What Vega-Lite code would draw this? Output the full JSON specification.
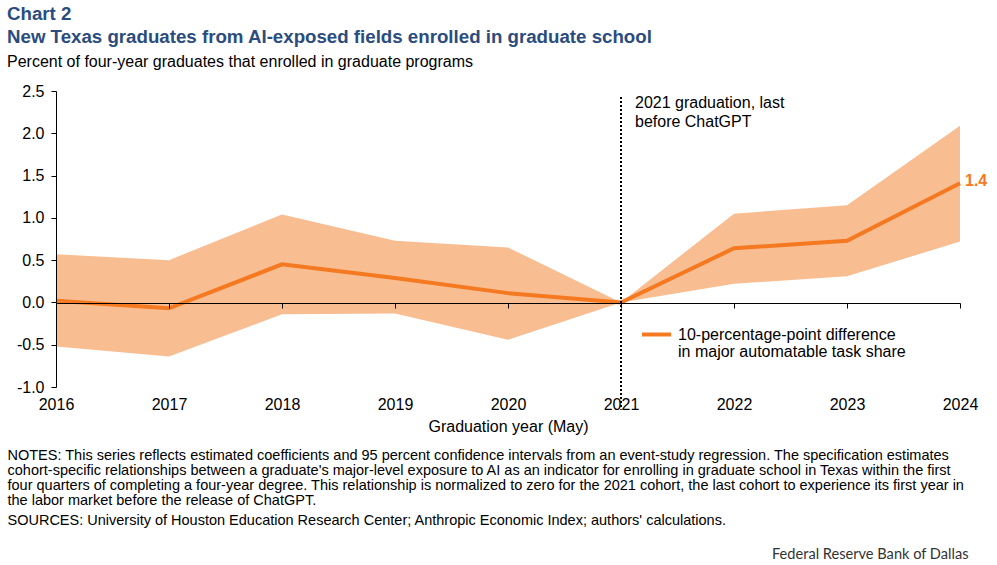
{
  "$schema": "https://vega.github.io/schema/vega-lite/v6.json",
  "description": "New Texas graduates from AI-exposed fields enrolled in graduate school, event-study estimates with 95% CI",
  "width": 904,
  "height": 296,
  "autosize": "none",
  "padding": {"left": 56, "top": 91, "right": 37, "bottom": 178},
  "background": "white",
  "config": {
    "view": {"stroke": null},
    "font": "Liberation Sans, Arial, sans-serif"
  },
  "title": {
    "text": ["Chart 2", "New Texas graduates from AI-exposed fields enrolled in graduate school"],
    "subtitle": "Percent of four-year graduates that enrolled in graduate programs",
    "anchor": "start",
    "frame": "group",
    "dx": -49,
    "offset": 13,
    "fontSize": 18.7,
    "fontWeight": "bold",
    "color": "#2B4C7E",
    "lineHeight": 23,
    "subtitleFontSize": 16,
    "subtitleFontWeight": "normal",
    "subtitleColor": "black",
    "subtitlePadding": 7
  },
  "data": {
    "values": [
      {"year": 2016, "est": 0.02, "lo": -0.52, "hi": 0.57},
      {"year": 2017, "est": -0.07, "lo": -0.64, "hi": 0.5},
      {"year": 2018, "est": 0.45, "lo": -0.14, "hi": 1.04},
      {"year": 2019, "est": 0.29, "lo": -0.13, "hi": 0.73},
      {"year": 2020, "est": 0.11, "lo": -0.44, "hi": 0.65},
      {"year": 2021, "est": 0, "lo": 0, "hi": 0},
      {"year": 2022, "est": 0.64, "lo": 0.22, "hi": 1.05},
      {"year": 2023, "est": 0.73, "lo": 0.31, "hi": 1.15},
      {"year": 2024, "est": 1.41, "lo": 0.72, "hi": 2.09}
    ]
  },
  "resolve": {"axis": {"x": "independent", "y": "independent"}},
  "layer": [
    {
      "mark": {"type": "area", "fill": "#F8BD91", "opacity": 1},
      "encoding": {
        "x": {
          "field": "year",
          "type": "quantitative",
          "scale": {"domain": [2016, 2024], "nice": false, "zero": false},
          "axis": {
            "orient": "bottom",
            "values": [2016, 2017, 2018, 2019, 2020, 2021, 2022, 2023, 2024],
            "format": "d",
            "grid": false,
            "domain": false,
            "ticks": false,
            "tickSize": 0,
            "labelFontSize": 16,
            "labelColor": "black",
            "labelPadding": 9,
            "labelFlush": false,
            "title": "Graduation year (May)",
            "titleFontSize": 16,
            "titleFontWeight": "normal",
            "titleColor": "black",
            "titlePadding": 6
          }
        },
        "y": {
          "field": "lo",
          "type": "quantitative",
          "scale": {"domain": [-1, 2.5], "nice": false, "zero": false},
          "axis": {
            "orient": "left",
            "values": [-1, -0.5, 0, 0.5, 1, 1.5, 2, 2.5],
            "labelExpr": "replace(format(datum.value, '.1f'), '\u2212', '-')",
            "grid": false,
            "domain": true,
            "domainColor": "black",
            "ticks": true,
            "tickSize": 5,
            "tickColor": "black",
            "labelFontSize": 16,
            "labelColor": "black",
            "labelPadding": 7,
            "title": null,
            "zindex": 1
          }
        },
        "y2": {"field": "hi"}
      }
    },
    {
      "mark": {"type": "line", "strokeWidth": 4},
      "encoding": {
        "x": {
          "field": "year",
          "type": "quantitative",
          "axis": {
            "orient": "bottom",
            "offset": -84,
            "values": [2016, 2017, 2018, 2019, 2020, 2021, 2022, 2023, 2024],
            "labels": false,
            "grid": false,
            "domain": true,
            "domainColor": "black",
            "ticks": true,
            "tickSize": 5,
            "tickColor": "black",
            "title": null,
            "zindex": 1
          }
        },
        "y": {"field": "est", "type": "quantitative", "axis": null},
        "color": {
          "datum": "10-percentage-point difference in major automatable task share",
          "type": "nominal",
          "scale": {"range": ["#F47920"]},
          "legend": {
            "orient": "none",
            "legendX": 584,
            "legendY": 227,
            "title": null,
            "symbolType": "stroke",
            "symbolSize": 840,
            "symbolStrokeWidth": 4,
            "labelFontSize": 16,
            "labelColor": "black",
            "labelLimit": 500,
            "labelOffset": 5,
            "labelBaseline": "top",
            "labelExpr": "['10-percentage-point difference', 'in major automatable task share']",
            "encode": {"labels": {"update": {"lineHeight": {"value": 17.5}, "dy": {"value": -8}}}}
          }
        }
      }
    },
    {
      "data": {"values": [{"year": 2021, "label": "2021 graduation, last\nbefore ChatGPT"}]},
      "layer": [
        {
          "mark": {"type": "rule", "strokeDash": [2, 2], "strokeWidth": 2, "color": "black", "clip": false},
          "encoding": {
            "x": {
              "field": "year",
              "type": "quantitative",
              "axis": {
                "orient": "bottom",
                "labels": false,
                "ticks": false,
                "domain": false,
                "grid": false,
                "title": "SOURCES: University of Houston Education Research Center; Anthropic Economic Index; authors' calculations.",
                "titleAnchor": "start",
                "titleAlign": "left",
                "titleBaseline": "top",
                "titleX": -49,
                "titleY": 126,
                "titleFontSize": 14.5,
                "titleFontWeight": "normal",
                "titleColor": "black",
                "titleLimit": 2000
              }
            },
            "y": {"datum": 2.43, "type": "quantitative", "axis": null},
            "y2": {"datum": -1.27}
          }
        },
        {
          "mark": {
            "type": "text",
            "align": "left",
            "baseline": "top",
            "dx": 14,
            "fontSize": 16,
            "fontWeight": "normal",
            "lineHeight": 19,
            "lineBreak": "\n",
            "color": "black"
          },
          "encoding": {
            "x": {"field": "year", "type": "quantitative"},
            "y": {"datum": 2.45, "type": "quantitative", "axis": null},
            "text": {"field": "label", "type": "nominal"}
          }
        }
      ]
    },
    {
      "transform": [{"filter": "datum.year === 2024"}],
      "mark": {
        "type": "text",
        "align": "left",
        "baseline": "middle",
        "dx": 5,
        "dy": -2,
        "fontSize": 16,
        "fontWeight": "bold",
        "color": "#F47920"
      },
      "encoding": {
        "x": {
          "field": "year",
          "type": "quantitative",
          "axis": {
            "orient": "bottom",
            "labels": false,
            "ticks": false,
            "domain": false,
            "grid": false,
            "title": [
              "NOTES: This series reflects estimated coefficients and 95 percent confidence intervals from an event-study regression. The specification estimates",
              "cohort-specific relationships between a graduate's major-level exposure to AI as an indicator for enrolling in graduate school in Texas within the first",
              "four quarters of completing a four-year degree. This relationship is normalized to zero for the 2021 cohort, the last cohort to experience its first year in",
              "the labor market before the release of ChatGPT."
            ],
            "titleAnchor": "start",
            "titleAlign": "left",
            "titleBaseline": "top",
            "titleX": -49,
            "titleY": 61,
            "titleFontSize": 14.5,
            "titleFontWeight": "normal",
            "titleColor": "black",
            "titleLineHeight": 15,
            "titleLimit": 2000
          }
        },
        "y": {
          "field": "est",
          "type": "quantitative",
          "axis": {
            "orient": "right",
            "labels": false,
            "ticks": false,
            "domain": false,
            "grid": false,
            "title": "Federal Reserve Bank of Dallas",
            "titleAngle": 0,
            "titleAlign": "right",
            "titleBaseline": "middle",
            "titleX": 8,
            "titleY": 463,
            "titleFont": "Lato",
            "titleFontSize": 14.6,
            "titleFontWeight": "normal",
            "titleColor": "#333333",
            "titleLimit": 1000
          }
        },
        "text": {"field": "est", "type": "quantitative", "format": ".1f"}
      }
    }
  ]
}
